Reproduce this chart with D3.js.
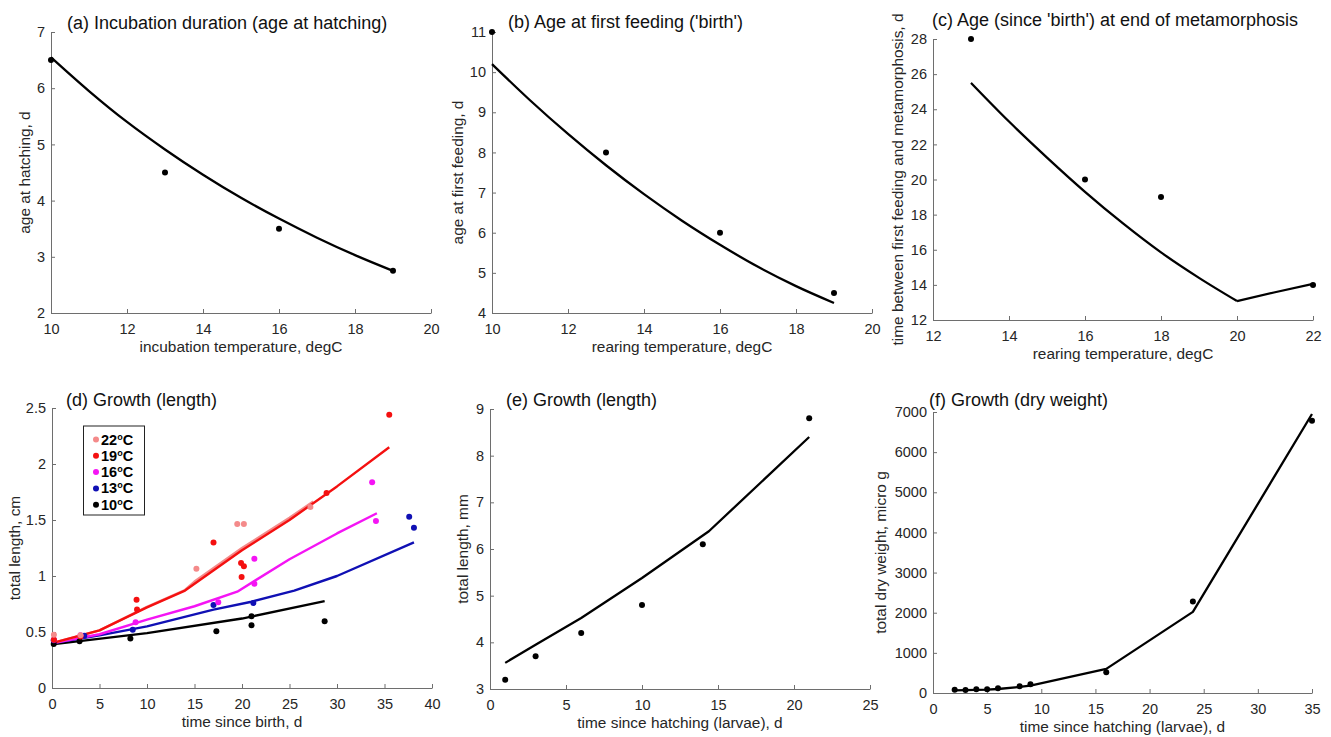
<!DOCTYPE html>
<html><head><meta charset="utf-8">
<script src="https://cdn.jsdelivr.net/npm/d3@7"></script>
<style>
body{margin:0;background:#fff;}
svg{display:block;font-family:"Liberation Sans",Arial,sans-serif;}
</style></head>
<body><svg id="chart" width="1331" height="737"></svg>
<script>
// ---- (a) incubation ----
const aTempObs = [10, 13, 16, 19];
const aAgeObs = [6.5, 4.5, 3.5, 2.75];
const aTempFit = [10, 11, 12, 13, 14, 15, 16, 17, 18, 19];
const aAgeFit = [6.55, 5.95, 5.40, 4.91, 4.46, 4.05, 3.68, 3.34, 3.03, 2.75];
const aXTicks = [10, 12, 14, 16, 18, 20];
const aYTicks = [2, 3, 4, 5, 6, 7];
// ---- (b) first feeding ----
const bTempObs = [10, 13, 16, 19];
const bAgeObs = [11, 8, 6, 4.5];
const bTempFit = [10, 11, 12, 13, 14, 15, 16, 17, 18, 19];
const bAgeFit = [10.2, 9.3, 8.46, 7.68, 6.96, 6.3, 5.7, 5.15, 4.67, 4.25];
const bXTicks = [10, 12, 14, 16, 18, 20];
const bYTicks = [4, 5, 6, 7, 8, 9, 10, 11];
// ---- (c) metamorphosis ----
const cTempObs = [13, 16, 18, 22];
const cTimeObs = [28, 20, 19, 14];
const cTempFit = [13, 14, 15, 16, 17, 18, 19, 20];
const cTimeFit = [25.5, 23.3, 21.25, 19.3, 17.5, 15.85, 14.4, 13.08];
const cTempFit2 = [20, 21, 22];
const cTimeFit2 = [13.08, 13.58, 14.05];
const cXTicks = [12, 14, 16, 18, 20, 22];
const cYTicks = [12, 14, 16, 18, 20, 22, 24, 26, 28];
// ---- (d) growth length by temperature ----
const dTemps = ["22", "19", "16", "13", "10"];
const dColors = ["#f48a8a", "#f41010", "#f414f4", "#1010b4", "#000000"];
const d22T = [0.2, 3.0, 15.2, 19.5, 20.2, 27.2];
const d22L = [0.476, 0.47, 1.065, 1.464, 1.464, 1.616];
const d19T = [0.2, 3.0, 8.9, 8.95, 17.0, 19.9, 20.2, 19.96, 28.9, 35.5];
const d19L = [0.43, 0.46, 0.789, 0.70, 1.30, 1.116, 1.086, 0.99, 1.74, 2.44];
const d16T = [0.2, 3.0, 8.8, 17.5, 21.3, 21.3, 33.7, 34.1];
const d16L = [0.43, 0.47, 0.586, 0.765, 1.155, 0.93, 1.836, 1.49];
const d13T = [0.18, 3.4, 8.5, 17.0, 21.2, 37.6, 38.1];
const d13L = [0.426, 0.467, 0.52, 0.74, 0.76, 1.53, 1.43];
const d10T = [0.18, 2.9, 8.25, 17.3, 21.0, 21.0, 28.7];
const d10L = [0.393, 0.417, 0.443, 0.506, 0.56, 0.64, 0.595];
const d22FitT = [0, 5, 10, 14, 15, 20, 25, 27.5];
const d22FitL = [0.40, 0.515, 0.725, 0.875, 0.95, 1.25, 1.52, 1.665];
const d19FitT = [0, 5, 10, 14, 20, 25, 30, 35.5];
const d19FitL = [0.40, 0.515, 0.72, 0.87, 1.23, 1.50, 1.80, 2.15];
const d16FitT = [0, 5, 10, 15, 19.5, 25, 30, 34.2];
const d16FitL = [0.40, 0.48, 0.61, 0.73, 0.86, 1.15, 1.38, 1.56];
const d13FitT = [0, 5, 10, 17, 21, 25.5, 30, 38.1];
const d13FitL = [0.40, 0.47, 0.55, 0.70, 0.77, 0.87, 1.00, 1.30];
const d10FitT = [0, 10, 20, 28.7];
const d10FitL = [0.39, 0.49, 0.62, 0.775];
const dXTicks = [0, 5, 10, 15, 20, 25, 30, 35, 40];
const dYTicks = [0, 0.5, 1, 1.5, 2, 2.5];
// ---- (e) growth length larvae ----
const eTObs = [1, 3, 6, 10, 14, 21];
const eLObs = [3.2, 3.7, 4.2, 4.8, 6.1, 8.8];
const eTFit = [1, 3, 6, 10, 14.4, 21];
const eLFit = [3.56, 3.95, 4.52, 5.38, 6.38, 8.40];
const eXTicks = [0, 5, 10, 15, 20, 25];
const eYTicks = [3, 4, 5, 6, 7, 8, 9];
// ---- (f) dry weight ----
const fTObs = [2, 3, 4, 5, 6, 8, 9, 16, 24, 35];
const fWObs = [83, 75, 92, 92, 117, 167, 216, 516, 2281, 6785];
const fTFit = [2, 3, 4, 5, 6, 8, 9, 16, 24, 35];
const fWFit = [65, 70, 78, 85, 100, 150, 185, 600, 2020, 6950];
const fXTicks = [0, 5, 10, 15, 20, 25, 30, 35];
const fYTicks = [0, 1000, 2000, 3000, 4000, 5000, 6000, 7000];

const svg = d3.select("#chart");
const TXT = "#262626", AX = "#6e6e6e";

function zip(a, b) { return a.map((v, i) => [v, b[i]]); }

function panel(o) {
  const g = svg.append("g");
  const x = d3.scaleLinear().domain(o.xd).range([o.l, o.r]);
  const y = d3.scaleLinear().domain(o.yd).range([o.b, o.t]);
  const ax = g.append("g").attr("transform", `translate(0,${o.b})`)
    .call(d3.axisBottom(x).tickValues(o.xt).tickSizeInner(-4).tickSizeOuter(0).tickPadding(11).tickFormat(o.xf || d3.format("")));
  const ay = g.append("g").attr("transform", `translate(${o.l},0)`)
    .call(d3.axisLeft(y).tickValues(o.yt).tickSizeInner(-4).tickSizeOuter(0).tickPadding(6).tickFormat(o.yf || d3.format("")));
  [ax, ay].forEach(a => {
    a.select(".domain").attr("stroke", AX).attr("stroke-width", 1);
    a.selectAll(".tick line").attr("stroke", AX);
    a.selectAll(".tick text").attr("fill", TXT).style("font-size", "14.5px").style("font-family", "Liberation Sans, Arial, sans-serif");
  });
  g.append("text").attr("x", (o.l + o.r) / 2).attr("y", o.b + 39).attr("text-anchor", "middle")
    .attr("fill", TXT).style("font-size", "15.4px").text(o.xl);
  g.append("text").attr("transform", `translate(${o.l - o.yo},${(o.t + o.b) / 2}) rotate(-90)`)
    .attr("text-anchor", "middle").attr("fill", TXT).style("font-size", "15.4px").text(o.yl);
  g.append("text").attr("x", o.tx).attr("y", o.ty).attr("fill", "#111").style("font-size", "18px").text(o.title);
  return { g, x, y };
}

function fitLine(p, xs, ys, color, curve, w) {
  p.g.append("path").datum(zip(xs, ys))
    .attr("fill", "none").attr("stroke", color).attr("stroke-width", w || 2.3)
    .attr("stroke-linejoin", "round")
    .attr("d", d3.line().x(d => p.x(d[0])).y(d => p.y(d[1])).curve(curve || d3.curveLinear));
}
function dots(p, xs, ys, color) {
  p.g.append("g").selectAll("circle").data(zip(xs, ys)).join("circle")
    .attr("cx", d => p.x(d[0])).attr("cy", d => p.y(d[1])).attr("r", 3).attr("fill", color);
}

// (a)
const pa = panel({ l: 51, r: 431, t: 32, b: 313, xd: [10, 20], yd: [2, 7], xt: aXTicks, yt: aYTicks,
  xl: "incubation temperature, degC", yl: "age at hatching, d", yo: 21,
  title: "(a) Incubation duration (age at hatching)", tx: 67, ty: 29 });
fitLine(pa, aTempFit, aAgeFit, "#000", d3.curveMonotoneX);
dots(pa, aTempObs, aAgeObs, "#000");

// (b)
const pb = panel({ l: 492, r: 872, t: 32, b: 313, xd: [10, 20], yd: [4, 11], xt: bXTicks, yt: bYTicks,
  xl: "rearing temperature, degC", yl: "age at first feeding, d", yo: 29,
  title: "(b) Age at first feeding ('birth')", tx: 508, ty: 28 });
fitLine(pb, bTempFit, bAgeFit, "#000", d3.curveMonotoneX);
dots(pb, bTempObs, bAgeObs, "#000");

// (c)
const pc = panel({ l: 933, r: 1313, t: 39, b: 320, xd: [12, 22], yd: [12, 28], xt: cXTicks, yt: cYTicks,
  xl: "rearing temperature, degC", yl: "time between first feeding and metamorphosis, d", yo: 30,
  title: "(c) Age (since 'birth') at end of metamorphosis", tx: 932, ty: 26 });
fitLine(pc, cTempFit, cTimeFit, "#000", d3.curveMonotoneX);
fitLine(pc, cTempFit2, cTimeFit2, "#000");
dots(pc, cTempObs, cTimeObs, "#000");

// (d)
const pd = panel({ l: 52, r: 432, t: 408, b: 688, xd: [0, 40], yd: [0, 2.5], xt: dXTicks, yt: dYTicks,
  xl: "time since birth, d", yl: "total length, cm", yo: 32,
  title: "(d) Growth (length)", tx: 66, ty: 406, yf: d3.format("~g") });
const dFitT = [d22FitT, d19FitT, d16FitT, d13FitT, d10FitT];
const dFitL = [d22FitL, d19FitL, d16FitL, d13FitL, d10FitL];
const dObsT = [d22T, d19T, d16T, d13T, d10T];
const dObsL = [d22L, d19L, d16L, d13L, d10L];
[4, 3, 2, 0, 1].forEach(i => fitLine(pd, dFitT[i], dFitL[i], dColors[i], d3.curveLinear, 2.4));
[4, 3, 2, 1, 0].forEach(i => dots(pd, dObsT[i], dObsL[i], dColors[i]));
// legend
const lg = pd.g.append("g");
lg.append("rect").attr("x", 83.5).attr("y", 426).attr("width", 61).attr("height", 89)
  .attr("fill", "#fff").attr("stroke", "#222").attr("stroke-width", 1);
dTemps.forEach((t, i) => {
  const yy = 439.5 + i * 16.3;
  lg.append("circle").attr("cx", 96).attr("cy", yy).attr("r", 3).attr("fill", dColors[i]);
  const tx = lg.append("text").attr("x", 101).attr("y", yy + 5).attr("fill", "#000")
    .style("font-size", "14.5px").style("font-weight", "bold");
  tx.append("tspan").text(t);
  tx.append("tspan").attr("dy", -5).style("font-size", "9px").text("o");
  tx.append("tspan").attr("dy", 5).text("C");
});

// (e)
const pe = panel({ l: 490, r: 870, t: 409, b: 689, xd: [0, 25], yd: [3, 9], xt: eXTicks, yt: eYTicks,
  xl: "time since hatching (larvae), d", yl: "total length, mm", yo: 22,
  title: "(e) Growth (length)", tx: 506, ty: 406 });
fitLine(pe, eTFit, eLFit, "#000");
dots(pe, eTObs, eLObs, "#000");

// (f)
const pf = panel({ l: 933, r: 1312, t: 412, b: 693, xd: [0, 35], yd: [0, 7000], xt: fXTicks, yt: fYTicks,
  xl: "time since hatching (larvae), d", yl: "total dry weight, micro g", yo: 47,
  title: "(f) Growth (dry weight)", tx: 929, ty: 406 });
fitLine(pf, fTFit, fWFit, "#000");
dots(pf, fTObs, fWObs, "#000");
</script></body></html>
